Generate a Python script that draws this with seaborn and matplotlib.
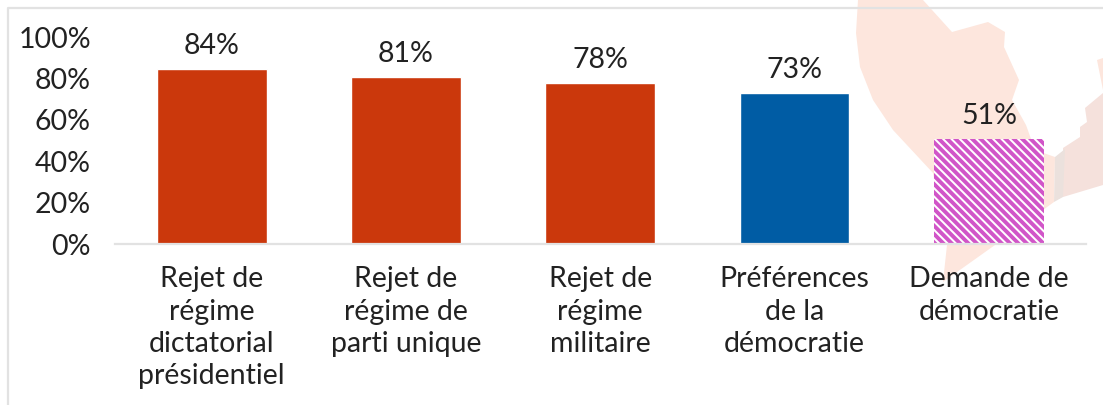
import matplotlib
matplotlib.use("Agg")
import matplotlib.pyplot as plt
from matplotlib.patches import Polygon
import pandas as pd
import seaborn as sns

categories = ["Rejet de\nrégime\ndictatorial\nprésidentiel", "Rejet de\nrégime de\nparti unique",
              "Rejet de\nrégime\nmilitaire", "Préférences\nde la\ndémocratie", "Demande de\ndémocratie"]
values = [84.4, 80.6, 77.8, 73, 50.6]
bar_colors = ["#cb380c", "#cb380c", "#cb380c", "#005ca4", "#ffffff"]
y_ticks = [0, 20, 40, 60, 80, 100]

W, H = 1103, 405
FS = 20.5
sns.set_theme(style="white")
plt.rcParams["font.family"] = ["Lato", "DejaVu Sans"]
plt.rcParams["hatch.linewidth"] = 2.8
plt.rcParams["hatch.color"] = "#d155c8"

df = pd.DataFrame({"cat": categories, "val": values})
fig = plt.figure(figsize=(W / 100, H / 100), dpi=100, facecolor="white")

# background map shapes, in pixels
bg = fig.add_axes([0, 0, 1, 1], zorder=0)
bg.set_xlim(0, W)
bg.set_ylim(H, 0)
bg.axis("off")
peach = [(858, 0), (923, 0), (952, 32), (988, 22), (1005, 32), (1004, 47), (1019, 80), (1012, 100),
         (1026, 125), (1035, 150), (1055, 157), (1054, 202), (995, 245), (943, 282), (947, 245),
         (933, 173), (893, 130), (873, 100), (860, 67), (856, 33)]
bg.add_patch(Polygon(peach, closed=True, fc="#fde6dd", ec="none"))
pink = [(1063, 148), (1080, 137), (1080, 127), (1087, 122), (1085, 108), (1103, 93), (1103, 185), (1063, 197)]
bg.add_patch(Polygon(pink, closed=True, fc="#f5e1dc", ec="none"))
bg.add_patch(Polygon([(1097, 60), (1103, 58), (1103, 90)], closed=True, fc="#fde6dd", ec="none"))
bg.add_patch(Polygon([(1055, 157), (1065, 149), (1063, 197), (1054, 202)], closed=True, fc="#ebe1dd", ec="none"))
bg.plot([8, 8, W], [H, 8, 8], color="#e2e2e2", lw=1.6)

ax = fig.add_axes([114.5 / W, 1 - 244 / H, (1086 - 114.5) / W, 207 / H], zorder=1)
ax.patch.set_alpha(0)
sns.barplot(data=df, x="cat", y="val", hue="cat", palette=bar_colors, legend=False, width=0.565, ax=ax, saturation=1)
ax.patches[4].set_hatch("\\\\\\\\")
ax.patches[4].set_edgecolor("#d155c8")
ax.patches[4].set_linewidth(0)

for i, v in enumerate(values):
    ax.annotate(f"{v:.0f}%", (i, v), xytext=(0, 10), textcoords="offset pixels", ha="center", va="bottom",
                fontsize=FS, color="#222222")

ax.set_ylim(0, 100)
ax.set_xlim(-0.5, 4.5)
ax.set_yticks(y_ticks)
ax.set_yticklabels([f"{t}%" for t in y_ticks])
ax.set(xlabel="", ylabel="")
ax.tick_params(axis="y", length=0, pad=17, labelsize=FS, labelcolor="#222222")
ax.tick_params(axis="x", length=0, pad=16, labelsize=FS, labelcolor="#222222")
for lab in ax.get_xticklabels():
    lab.set_linespacing(1.3)
for s in ["top", "right", "left"]:
    ax.spines[s].set_visible(False)
ax.spines["bottom"].set_color("#e2e2e2")
ax.spines["bottom"].set_linewidth(1.6)
fig.savefig("out.png", dpi=100)
